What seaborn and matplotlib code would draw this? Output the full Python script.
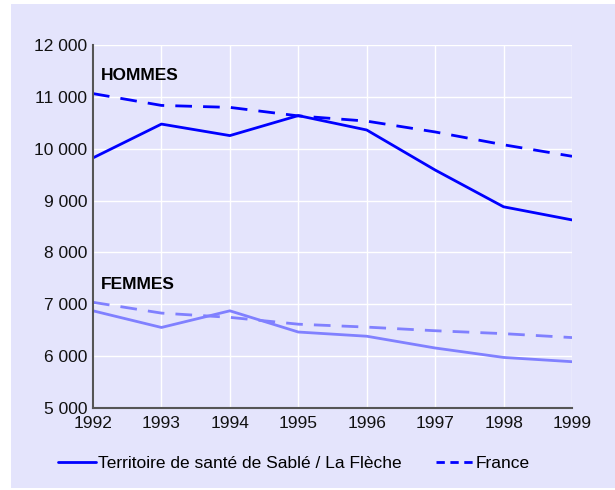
import matplotlib
matplotlib.use("Agg")
import matplotlib.pyplot as plt
from matplotlib.patches import Rectangle
from matplotlib.lines import Line2D
import pandas as pd
import seaborn as sns

years = [1992, 1993, 1994, 1995, 1996, 1997, 1998, 1999]
hommes_territoire = [9823, 10475, 10253, 10639, 10361, 9589, 8880, 8627]
hommes_france = [11063, 10835, 10797, 10633, 10532, 10323, 10076, 9854]
femmes_territoire = [6874, 6553, 6874, 6465, 6384, 6157, 5975, 5893]
femmes_france = [7038, 6830, 6748, 6616, 6560, 6490, 6434, 6358]

y_ticks = [5000, 6000, 7000, 8000, 9000, 10000, 11000, 12000]
y_labels = ["5 000", "6 000", "7 000", "8 000", "9 000", "10 000", "11 000", "12 000"]

BG = "#e4e4fc"
BLUE = "#0000ff"
LIGHT = "#8080ff"

sns.set_style("white")
plt.rcParams["font.family"] = ["Liberation Sans", "DejaVu Sans"]
plt.rcParams["text.color"] = "black"

df = pd.DataFrame({"annee": years,
                   "ht": hommes_territoire, "hf": hommes_france,
                   "ft": femmes_territoire, "ff": femmes_france})

fig = plt.figure(figsize=(6.15, 4.9), dpi=100)
fig.patches.append(Rectangle((11 / 615, 0.004), 1, 1 - 4 / 490 - 0.004,
                             transform=fig.transFigure, facecolor=BG,
                             edgecolor="none", zorder=-1))
ax = fig.add_axes([93 / 615, 1 - 408 / 490, (572 - 93) / 615, (408 - 45) / 490])
ax.set_facecolor(BG)

sns.lineplot(data=df, x="annee", y="ht", ax=ax, color=BLUE, lw=2)
sns.lineplot(data=df, x="annee", y="hf", ax=ax, color=BLUE, lw=2,
             linestyle=(0, (6, 4)))
sns.lineplot(data=df, x="annee", y="ft", ax=ax, color=LIGHT, lw=2)
sns.lineplot(data=df, x="annee", y="ff", ax=ax, color=LIGHT, lw=2,
             linestyle=(0, (6, 4)))

ax.set_xlim(1992, 1999)
ax.set_ylim(5000, 12000)
ax.set_xticks(years)
ax.set_xticklabels([str(y) for y in years], fontsize=12.5)
ax.set_yticks(y_ticks)
ax.set_yticklabels(y_labels, fontsize=12.5)
ax.tick_params(axis="x", length=0, pad=6, colors="#111111")
ax.tick_params(axis="y", length=0, pad=4, colors="#111111")
ax.set_xlabel("")
ax.set_ylabel("")
ax.grid(True, color="white", lw=1)
ax.set_axisbelow(True)
for s in ["top", "right"]:
    ax.spines[s].set_visible(False)
for s in ["left", "bottom"]:
    ax.spines[s].set_color("#555555")
    ax.spines[s].set_linewidth(1.5)

ax.text(1992.12, 11420, "HOMMES", fontsize=12.5, fontweight="bold", va="center")
ax.text(1992.12, 7390, "FEMMES", fontsize=12.5, fontweight="bold", va="center")

handles = [Line2D([], [], color=BLUE, lw=2),
           Line2D([], [], color=BLUE, lw=2, linestyle=(0, (3, 2)))]
fig.legend(handles, ["Territoire de santé de Sablé / La Flèche", "France"],
           loc="center", bbox_to_anchor=(0.478, 1 - 463 / 490), ncol=2,
           frameon=False, fontsize=12.5, handlelength=2.2, handletextpad=0.1,
           columnspacing=2.0)

fig.savefig("out.png", dpi=100)
